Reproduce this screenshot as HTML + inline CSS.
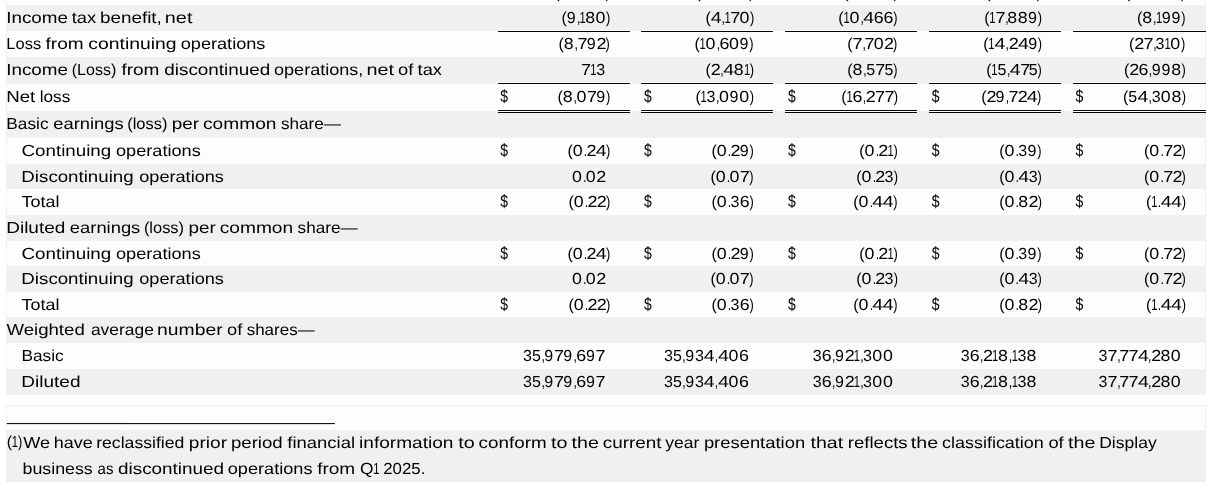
<!DOCTYPE html><html><head><meta charset='utf-8'><title>Income statement excerpt</title><style>html,body{margin:0;padding:0;background:#fff}svg{display:block}</style></head><body>
<svg width='1212' height='489' viewBox='0 0 1212 489'>
<rect x='0' y='0' width='1212' height='489' fill='#fff'/>
<rect x='6' y='-20' width='1200' height='25' fill='#efefef'/>
<rect x='7' y='-20' width='1198' height='25' fill='#fff'/>
<rect x='8' y='-19' width='1196' height='23' fill='#fdfdfd'/>
<rect x='6' y='5' width='1200' height='26' fill='#f0f0f0'/>
<rect x='6' y='31' width='1200' height='26' fill='#efefef'/>
<rect x='7' y='31' width='1198' height='26' fill='#fff'/>
<rect x='8' y='32' width='1196' height='24' fill='#fdfdfd'/>
<rect x='6' y='57' width='1200' height='27' fill='#f0f0f0'/>
<rect x='6' y='84' width='1200' height='27' fill='#efefef'/>
<rect x='7' y='84' width='1198' height='27' fill='#fff'/>
<rect x='8' y='85' width='1196' height='25' fill='#fdfdfd'/>
<rect x='6' y='111' width='1200' height='27' fill='#f0f0f0'/>
<rect x='6' y='138' width='1200' height='26' fill='#efefef'/>
<rect x='7' y='138' width='1198' height='26' fill='#fff'/>
<rect x='8' y='139' width='1196' height='24' fill='#fdfdfd'/>
<rect x='6' y='164' width='1200' height='25' fill='#f0f0f0'/>
<rect x='6' y='189' width='1200' height='26' fill='#efefef'/>
<rect x='7' y='189' width='1198' height='26' fill='#fff'/>
<rect x='8' y='190' width='1196' height='24' fill='#fdfdfd'/>
<rect x='6' y='215' width='1200' height='26' fill='#f0f0f0'/>
<rect x='6' y='241' width='1200' height='25' fill='#efefef'/>
<rect x='7' y='241' width='1198' height='25' fill='#fff'/>
<rect x='8' y='242' width='1196' height='23' fill='#fdfdfd'/>
<rect x='6' y='266' width='1200' height='26' fill='#f0f0f0'/>
<rect x='6' y='292' width='1200' height='25' fill='#efefef'/>
<rect x='7' y='292' width='1198' height='25' fill='#fff'/>
<rect x='8' y='293' width='1196' height='23' fill='#fdfdfd'/>
<rect x='6' y='317' width='1200' height='26' fill='#f0f0f0'/>
<rect x='6' y='343' width='1200' height='26' fill='#efefef'/>
<rect x='7' y='343' width='1198' height='26' fill='#fff'/>
<rect x='8' y='344' width='1196' height='24' fill='#fdfdfd'/>
<rect x='6' y='369' width='1200' height='26' fill='#f0f0f0'/>
<rect x='498' y='30' width='132' height='1' fill='#fff'/>
<rect x='498' y='31' width='132' height='1' fill='#000'/>
<rect x='498' y='82' width='132' height='1' fill='#fff'/>
<rect x='498' y='83' width='132' height='1' fill='#000'/>
<rect x='498' y='110' width='132' height='1' fill='#000'/>
<rect x='498' y='111' width='132' height='1' fill='#fff'/>
<rect x='498' y='112' width='132' height='1' fill='#000'/>
<rect x='641' y='30' width='132' height='1' fill='#fff'/>
<rect x='641' y='31' width='132' height='1' fill='#000'/>
<rect x='641' y='82' width='132' height='1' fill='#fff'/>
<rect x='641' y='83' width='132' height='1' fill='#000'/>
<rect x='641' y='110' width='132' height='1' fill='#000'/>
<rect x='641' y='111' width='132' height='1' fill='#fff'/>
<rect x='641' y='112' width='132' height='1' fill='#000'/>
<rect x='785' y='30' width='132' height='1' fill='#fff'/>
<rect x='785' y='31' width='132' height='1' fill='#000'/>
<rect x='785' y='82' width='132' height='1' fill='#fff'/>
<rect x='785' y='83' width='132' height='1' fill='#000'/>
<rect x='785' y='110' width='132' height='1' fill='#000'/>
<rect x='785' y='111' width='132' height='1' fill='#fff'/>
<rect x='785' y='112' width='132' height='1' fill='#000'/>
<rect x='929' y='30' width='132' height='1' fill='#fff'/>
<rect x='929' y='31' width='132' height='1' fill='#000'/>
<rect x='929' y='82' width='132' height='1' fill='#fff'/>
<rect x='929' y='83' width='132' height='1' fill='#000'/>
<rect x='929' y='110' width='132' height='1' fill='#000'/>
<rect x='929' y='111' width='132' height='1' fill='#fff'/>
<rect x='929' y='112' width='132' height='1' fill='#000'/>
<rect x='1073' y='30' width='133' height='1' fill='#fff'/>
<rect x='1073' y='31' width='133' height='1' fill='#000'/>
<rect x='1073' y='82' width='133' height='1' fill='#fff'/>
<rect x='1073' y='83' width='133' height='1' fill='#000'/>
<rect x='1073' y='110' width='133' height='1' fill='#000'/>
<rect x='1073' y='111' width='133' height='1' fill='#fff'/>
<rect x='1073' y='112' width='133' height='1' fill='#000'/>
<rect x='6' y='405' width='1200' height='25' fill='#efefef'/>
<rect x='7' y='406' width='1198' height='24' fill='#fff'/>
<rect x='8' y='407' width='1196' height='22' fill='#fdfdfd'/>
<rect x='6' y='430' width='1200' height='52' fill='#f0f0f0'/>
<g font-family='"Liberation Sans", sans-serif' font-size='16.0' fill='#000' text-rendering='geometricPrecision'>
<text y='23'><tspan x='6.22' textLength='61.73' lengthAdjust='spacingAndGlyphs'>Income</tspan> <tspan x='71.78' textLength='24.39' lengthAdjust='spacingAndGlyphs'>tax</tspan> <tspan x='99.95' textLength='61.93' lengthAdjust='spacingAndGlyphs'>benefit,</tspan> <tspan x='164.87' textLength='27.55' lengthAdjust='spacingAndGlyphs'>net</tspan></text>
<text y='49'><tspan x='6.37' textLength='34.82' lengthAdjust='spacingAndGlyphs'>Loss</tspan> <tspan x='45.54' textLength='38.00' lengthAdjust='spacingAndGlyphs'>from</tspan> <tspan x='88.38' textLength='88.15' lengthAdjust='spacingAndGlyphs'>continuing</tspan> <tspan x='180.73' textLength='84.68' lengthAdjust='spacingAndGlyphs'>operations</tspan></text>
<text y='75'><tspan x='6.22' textLength='61.73' lengthAdjust='spacingAndGlyphs'>Income</tspan> <tspan x='71.78' textLength='44.45' lengthAdjust='spacingAndGlyphs'>(Loss)</tspan> <tspan x='121.45' textLength='38.00' lengthAdjust='spacingAndGlyphs'>from</tspan> <tspan x='164.28' textLength='106.00' lengthAdjust='spacingAndGlyphs'>discontinued</tspan> <tspan x='274.03' textLength='89.32' lengthAdjust='spacingAndGlyphs'>operations,</tspan> <tspan x='366.58' textLength='27.55' lengthAdjust='spacingAndGlyphs'>net</tspan> <tspan x='397.99' textLength='15.25' lengthAdjust='spacingAndGlyphs'>of</tspan> <tspan x='417.63' textLength='24.39' lengthAdjust='spacingAndGlyphs'>tax</tspan></text>
<text y='102'><tspan x='6.23' textLength='29.06' lengthAdjust='spacingAndGlyphs'>Net</tspan> <tspan x='39.69' textLength='30.56' lengthAdjust='spacingAndGlyphs'>loss</tspan></text>
<text y='129'><tspan x='6.32' textLength='42.21' lengthAdjust='spacingAndGlyphs'>Basic</tspan> <tspan x='53.22' textLength='70.43' lengthAdjust='spacingAndGlyphs'>earnings</tspan> <tspan x='127.24' textLength='40.17' lengthAdjust='spacingAndGlyphs'>(loss)</tspan> <tspan x='171.76' textLength='27.33' lengthAdjust='spacingAndGlyphs'>per</tspan> <tspan x='203.06' textLength='73.43' lengthAdjust='spacingAndGlyphs'>common</tspan> <tspan x='280.95' textLength='60.03' lengthAdjust='spacingAndGlyphs'>share—</tspan></text>
<text y='156'><tspan x='21.55' textLength='89.59' lengthAdjust='spacingAndGlyphs'>Continuing</tspan> <tspan x='116.02' textLength='84.68' lengthAdjust='spacingAndGlyphs'>operations</tspan></text>
<text y='182'><tspan x='21.38' textLength='112.24' lengthAdjust='spacingAndGlyphs'>Discontinuing</tspan> <tspan x='139.23' textLength='84.68' lengthAdjust='spacingAndGlyphs'>operations</tspan></text>
<text y='207'><tspan x='21.55' textLength='37.89' lengthAdjust='spacingAndGlyphs'>Total</tspan></text>
<text y='233'><tspan x='6.21' textLength='59.15' lengthAdjust='spacingAndGlyphs'>Diluted</tspan> <tspan x='69.87' textLength='70.43' lengthAdjust='spacingAndGlyphs'>earnings</tspan> <tspan x='143.90' textLength='40.17' lengthAdjust='spacingAndGlyphs'>(loss)</tspan> <tspan x='188.42' textLength='27.33' lengthAdjust='spacingAndGlyphs'>per</tspan> <tspan x='219.72' textLength='73.43' lengthAdjust='spacingAndGlyphs'>common</tspan> <tspan x='297.61' textLength='60.03' lengthAdjust='spacingAndGlyphs'>share—</tspan></text>
<text y='259'><tspan x='21.55' textLength='89.59' lengthAdjust='spacingAndGlyphs'>Continuing</tspan> <tspan x='116.02' textLength='84.68' lengthAdjust='spacingAndGlyphs'>operations</tspan></text>
<text y='284'><tspan x='21.38' textLength='112.24' lengthAdjust='spacingAndGlyphs'>Discontinuing</tspan> <tspan x='139.23' textLength='84.68' lengthAdjust='spacingAndGlyphs'>operations</tspan></text>
<text y='310'><tspan x='21.55' textLength='37.89' lengthAdjust='spacingAndGlyphs'>Total</tspan></text>
<text y='335'><tspan x='6.40' textLength='78.36' lengthAdjust='spacingAndGlyphs'>Weighted</tspan> <tspan x='90.94' textLength='62.90' lengthAdjust='spacingAndGlyphs'>average</tspan> <tspan x='157.13' textLength='65.51' lengthAdjust='spacingAndGlyphs'>number</tspan> <tspan x='227.00' textLength='15.25' lengthAdjust='spacingAndGlyphs'>of</tspan> <tspan x='246.65' textLength='68.03' lengthAdjust='spacingAndGlyphs'>shares—</tspan></text>
<text y='361'><tspan x='21.47' textLength='42.21' lengthAdjust='spacingAndGlyphs'>Basic</tspan></text>
<text y='387'><tspan x='21.36' textLength='59.15' lengthAdjust='spacingAndGlyphs'>Diluted</tspan></text>
<text y='447'><tspan x='6.70' textLength='5.33' lengthAdjust='spacingAndGlyphs'>(</tspan><tspan x='11.81' textLength='6.23' lengthAdjust='spacingAndGlyphs'>1</tspan><tspan x='17.90' textLength='4.26' lengthAdjust='spacingAndGlyphs'>)</tspan><tspan x='23.16' y='448' textLength='26.81' lengthAdjust='spacingAndGlyphs'>We</tspan> <tspan x='53.79' y='448' textLength='38.91' lengthAdjust='spacingAndGlyphs'>have</tspan> <tspan x='96.20' y='448' textLength='88.14' lengthAdjust='spacingAndGlyphs'>reclassified</tspan> <tspan x='188.84' y='448' textLength='38.21' lengthAdjust='spacingAndGlyphs'>prior</tspan> <tspan x='230.96' y='448' textLength='51.73' lengthAdjust='spacingAndGlyphs'>period</tspan> <tspan x='287.30' y='448' textLength='67.81' lengthAdjust='spacingAndGlyphs'>financial</tspan> <tspan x='359.05' y='448' textLength='94.38' lengthAdjust='spacingAndGlyphs'>information</tspan> <tspan x='458.22' y='448' textLength='16.42' lengthAdjust='spacingAndGlyphs'>to</tspan> <tspan x='478.64' y='448' textLength='67.94' lengthAdjust='spacingAndGlyphs'>conform</tspan> <tspan x='551.13' y='448' textLength='16.42' lengthAdjust='spacingAndGlyphs'>to</tspan> <tspan x='571.55' y='448' textLength='27.31' lengthAdjust='spacingAndGlyphs'>the</tspan> <tspan x='602.72' y='448' textLength='58.76' lengthAdjust='spacingAndGlyphs'>current</tspan> <tspan x='665.15' y='448' textLength='34.14' lengthAdjust='spacingAndGlyphs'>year</tspan> <tspan x='703.90' y='448' textLength='101.22' lengthAdjust='spacingAndGlyphs'>presentation</tspan> <tspan x='810.52' y='448' textLength='32.62' lengthAdjust='spacingAndGlyphs'>that</tspan> <tspan x='847.80' y='448' textLength='59.83' lengthAdjust='spacingAndGlyphs'>reflects</tspan> <tspan x='910.85' y='448' textLength='27.31' lengthAdjust='spacingAndGlyphs'>the</tspan> <tspan x='942.02' y='448' textLength='101.79' lengthAdjust='spacingAndGlyphs'>classification</tspan> <tspan x='1048.46' y='448' textLength='15.25' lengthAdjust='spacingAndGlyphs'>of</tspan> <tspan x='1068.11' y='448' textLength='27.31' lengthAdjust='spacingAndGlyphs'>the</tspan> <tspan x='1099.18' y='448' textLength='57.51' lengthAdjust='spacingAndGlyphs'>Display</tspan></text>
<text y='474'><tspan x='22.49' textLength='70.29' lengthAdjust='spacingAndGlyphs'>business</tspan> <tspan x='97.60' textLength='15.91' lengthAdjust='spacingAndGlyphs'>as</tspan> <tspan x='118.04' textLength='106.00' lengthAdjust='spacingAndGlyphs'>discontinued</tspan> <tspan x='227.79' textLength='84.68' lengthAdjust='spacingAndGlyphs'>operations</tspan> <tspan x='317.18' textLength='38.00' lengthAdjust='spacingAndGlyphs'>from</tspan> <tspan x='360.02' textLength='13.49' lengthAdjust='spacingAndGlyphs'>Q</tspan><tspan x='373.29' textLength='6.23' lengthAdjust='spacingAndGlyphs'>1</tspan> <tspan x='383.25' textLength='42.10' lengthAdjust='spacingAndGlyphs'>2025.</tspan></text>
<text y='-2'><tspan x='554.50' textLength='5.33' lengthAdjust='spacingAndGlyphs'>(</tspan><tspan x='559.61' textLength='6.23' lengthAdjust='spacingAndGlyphs'>1</tspan><tspan x='565.70' textLength='10.02' lengthAdjust='spacingAndGlyphs'>7</tspan><tspan x='575.59' textLength='3.41' lengthAdjust='spacingAndGlyphs'>,</tspan><tspan x='577.67' textLength='8.91' lengthAdjust='spacingAndGlyphs'>9</tspan><tspan x='587.42' textLength='10.02' lengthAdjust='spacingAndGlyphs'>7</tspan><tspan x='596.72' textLength='10.02' lengthAdjust='spacingAndGlyphs'>2</tspan><tspan x='605.80' textLength='4.26' lengthAdjust='spacingAndGlyphs'>)</tspan></text>
<text y='-2'><tspan x='695.40' textLength='5.33' lengthAdjust='spacingAndGlyphs'>(</tspan><tspan x='700.51' textLength='6.23' lengthAdjust='spacingAndGlyphs'>1</tspan><tspan x='706.60' textLength='10.89' lengthAdjust='spacingAndGlyphs'>4</tspan><tspan x='717.65' textLength='3.41' lengthAdjust='spacingAndGlyphs'>,</tspan><tspan x='720.89' textLength='10.02' lengthAdjust='spacingAndGlyphs'>7</tspan><tspan x='730.12' textLength='10.02' lengthAdjust='spacingAndGlyphs'>7</tspan><tspan x='739.54' textLength='8.91' lengthAdjust='spacingAndGlyphs'>9</tspan><tspan x='749.28' textLength='4.26' lengthAdjust='spacingAndGlyphs'>)</tspan></text>
<text y='-2'><tspan x='843.30' textLength='5.33' lengthAdjust='spacingAndGlyphs'>(</tspan><tspan x='848.41' textLength='6.23' lengthAdjust='spacingAndGlyphs'>1</tspan><tspan x='854.50' textLength='9.90' lengthAdjust='spacingAndGlyphs'>8</tspan><tspan x='865.18' textLength='3.41' lengthAdjust='spacingAndGlyphs'>,</tspan><tspan x='868.11' textLength='6.23' lengthAdjust='spacingAndGlyphs'>1</tspan><tspan x='873.84' textLength='9.90' lengthAdjust='spacingAndGlyphs'>6</tspan><tspan x='883.58' textLength='9.90' lengthAdjust='spacingAndGlyphs'>8</tspan><tspan x='893.79' textLength='4.26' lengthAdjust='spacingAndGlyphs'>)</tspan></text>
<text y='-2'><tspan x='985.20' textLength='5.33' lengthAdjust='spacingAndGlyphs'>(</tspan><tspan x='990.46' textLength='8.91' lengthAdjust='spacingAndGlyphs'>3</tspan><tspan x='999.49' textLength='10.02' lengthAdjust='spacingAndGlyphs'>2</tspan><tspan x='1008.97' textLength='3.41' lengthAdjust='spacingAndGlyphs'>,</tspan><tspan x='1011.90' textLength='6.23' lengthAdjust='spacingAndGlyphs'>1</tspan><tspan x='1017.63' textLength='8.91' lengthAdjust='spacingAndGlyphs'>3</tspan><tspan x='1026.65' textLength='9.90' lengthAdjust='spacingAndGlyphs'>8</tspan><tspan x='1036.86' textLength='4.26' lengthAdjust='spacingAndGlyphs'>)</tspan></text>
<text y='-2'><tspan x='1125.10' textLength='5.33' lengthAdjust='spacingAndGlyphs'>(</tspan><tspan x='1130.36' textLength='8.91' lengthAdjust='spacingAndGlyphs'>3</tspan><tspan x='1139.39' textLength='8.91' lengthAdjust='spacingAndGlyphs'>5</tspan><tspan x='1148.75' textLength='3.41' lengthAdjust='spacingAndGlyphs'>,</tspan><tspan x='1151.68' textLength='8.91' lengthAdjust='spacingAndGlyphs'>5</tspan><tspan x='1160.73' textLength='9.90' lengthAdjust='spacingAndGlyphs'>0</tspan><tspan x='1171.32' textLength='8.91' lengthAdjust='spacingAndGlyphs'>9</tspan><tspan x='1181.07' textLength='4.26' lengthAdjust='spacingAndGlyphs'>)</tspan></text>
<text y='23'><tspan x='561.50' textLength='5.33' lengthAdjust='spacingAndGlyphs'>(</tspan><tspan x='566.76' textLength='8.91' lengthAdjust='spacingAndGlyphs'>9</tspan><tspan x='576.98' textLength='3.41' lengthAdjust='spacingAndGlyphs'>,</tspan><tspan x='579.57' textLength='6.23' lengthAdjust='spacingAndGlyphs'>1</tspan><tspan x='585.30' textLength='9.90' lengthAdjust='spacingAndGlyphs'>8</tspan><tspan x='595.51' textLength='9.90' lengthAdjust='spacingAndGlyphs'>0</tspan><tspan x='606.10' textLength='4.26' lengthAdjust='spacingAndGlyphs'>)</tspan></text>
<text y='23'><tspan x='705.40' textLength='5.33' lengthAdjust='spacingAndGlyphs'>(</tspan><tspan x='710.66' textLength='10.89' lengthAdjust='spacingAndGlyphs'>4</tspan><tspan x='721.39' textLength='3.41' lengthAdjust='spacingAndGlyphs'>,</tspan><tspan x='724.48' textLength='6.23' lengthAdjust='spacingAndGlyphs'>1</tspan><tspan x='730.21' textLength='10.02' lengthAdjust='spacingAndGlyphs'>7</tspan><tspan x='739.64' textLength='9.90' lengthAdjust='spacingAndGlyphs'>0</tspan><tspan x='749.91' textLength='4.26' lengthAdjust='spacingAndGlyphs'>)</tspan></text>
<text y='23'><tspan x='838.30' textLength='5.33' lengthAdjust='spacingAndGlyphs'>(</tspan><tspan x='843.41' textLength='6.23' lengthAdjust='spacingAndGlyphs'>1</tspan><tspan x='849.50' textLength='9.90' lengthAdjust='spacingAndGlyphs'>0</tspan><tspan x='860.56' textLength='3.41' lengthAdjust='spacingAndGlyphs'>,</tspan><tspan x='863.31' textLength='10.89' lengthAdjust='spacingAndGlyphs'>4</tspan><tspan x='873.68' textLength='9.90' lengthAdjust='spacingAndGlyphs'>6</tspan><tspan x='883.42' textLength='9.90' lengthAdjust='spacingAndGlyphs'>6</tspan><tspan x='893.17' textLength='4.26' lengthAdjust='spacingAndGlyphs'>)</tspan></text>
<text y='23'><tspan x='984.20' textLength='5.33' lengthAdjust='spacingAndGlyphs'>(</tspan><tspan x='989.31' textLength='6.23' lengthAdjust='spacingAndGlyphs'>1</tspan><tspan x='995.40' textLength='10.02' lengthAdjust='spacingAndGlyphs'>7</tspan><tspan x='1005.29' textLength='3.41' lengthAdjust='spacingAndGlyphs'>,</tspan><tspan x='1007.37' textLength='9.90' lengthAdjust='spacingAndGlyphs'>8</tspan><tspan x='1017.74' textLength='9.90' lengthAdjust='spacingAndGlyphs'>8</tspan><tspan x='1027.95' textLength='8.91' lengthAdjust='spacingAndGlyphs'>9</tspan><tspan x='1037.69' textLength='4.26' lengthAdjust='spacingAndGlyphs'>)</tspan></text>
<text y='23'><tspan x='1137.10' textLength='5.33' lengthAdjust='spacingAndGlyphs'>(</tspan><tspan x='1142.36' textLength='9.90' lengthAdjust='spacingAndGlyphs'>8</tspan><tspan x='1153.04' textLength='3.41' lengthAdjust='spacingAndGlyphs'>,</tspan><tspan x='1155.97' textLength='6.23' lengthAdjust='spacingAndGlyphs'>1</tspan><tspan x='1161.70' textLength='8.91' lengthAdjust='spacingAndGlyphs'>9</tspan><tspan x='1171.45' textLength='8.91' lengthAdjust='spacingAndGlyphs'>9</tspan><tspan x='1181.19' textLength='4.26' lengthAdjust='spacingAndGlyphs'>)</tspan></text>
<text y='49'><tspan x='558.50' textLength='5.33' lengthAdjust='spacingAndGlyphs'>(</tspan><tspan x='563.76' textLength='9.90' lengthAdjust='spacingAndGlyphs'>8</tspan><tspan x='574.44' textLength='3.41' lengthAdjust='spacingAndGlyphs'>,</tspan><tspan x='577.52' textLength='10.02' lengthAdjust='spacingAndGlyphs'>7</tspan><tspan x='586.75' textLength='8.91' lengthAdjust='spacingAndGlyphs'>9</tspan><tspan x='596.50' textLength='10.02' lengthAdjust='spacingAndGlyphs'>2</tspan><tspan x='605.58' textLength='4.26' lengthAdjust='spacingAndGlyphs'>)</tspan></text>
<text y='49'><tspan x='694.40' textLength='5.33' lengthAdjust='spacingAndGlyphs'>(</tspan><tspan x='699.51' textLength='6.23' lengthAdjust='spacingAndGlyphs'>1</tspan><tspan x='705.60' textLength='9.90' lengthAdjust='spacingAndGlyphs'>0</tspan><tspan x='716.66' textLength='3.41' lengthAdjust='spacingAndGlyphs'>,</tspan><tspan x='719.41' textLength='9.90' lengthAdjust='spacingAndGlyphs'>6</tspan><tspan x='728.97' textLength='9.90' lengthAdjust='spacingAndGlyphs'>0</tspan><tspan x='739.56' textLength='8.91' lengthAdjust='spacingAndGlyphs'>9</tspan><tspan x='749.31' textLength='4.26' lengthAdjust='spacingAndGlyphs'>)</tspan></text>
<text y='49'><tspan x='847.30' textLength='5.33' lengthAdjust='spacingAndGlyphs'>(</tspan><tspan x='852.56' textLength='10.02' lengthAdjust='spacingAndGlyphs'>7</tspan><tspan x='862.46' textLength='3.41' lengthAdjust='spacingAndGlyphs'>,</tspan><tspan x='864.54' textLength='10.02' lengthAdjust='spacingAndGlyphs'>7</tspan><tspan x='873.76' textLength='9.90' lengthAdjust='spacingAndGlyphs'>0</tspan><tspan x='884.04' textLength='10.02' lengthAdjust='spacingAndGlyphs'>2</tspan><tspan x='893.12' textLength='4.26' lengthAdjust='spacingAndGlyphs'>)</tspan></text>
<text y='49'><tspan x='983.20' textLength='5.33' lengthAdjust='spacingAndGlyphs'>(</tspan><tspan x='988.31' textLength='6.23' lengthAdjust='spacingAndGlyphs'>1</tspan><tspan x='994.40' textLength='10.89' lengthAdjust='spacingAndGlyphs'>4</tspan><tspan x='1005.45' textLength='3.41' lengthAdjust='spacingAndGlyphs'>,</tspan><tspan x='1008.69' textLength='10.02' lengthAdjust='spacingAndGlyphs'>2</tspan><tspan x='1017.94' textLength='10.89' lengthAdjust='spacingAndGlyphs'>4</tspan><tspan x='1028.15' textLength='8.91' lengthAdjust='spacingAndGlyphs'>9</tspan><tspan x='1037.77' textLength='4.26' lengthAdjust='spacingAndGlyphs'>)</tspan></text>
<text y='49'><tspan x='1129.10' textLength='5.33' lengthAdjust='spacingAndGlyphs'>(</tspan><tspan x='1134.36' textLength='10.02' lengthAdjust='spacingAndGlyphs'>2</tspan><tspan x='1143.45' textLength='10.02' lengthAdjust='spacingAndGlyphs'>7</tspan><tspan x='1153.31' textLength='3.41' lengthAdjust='spacingAndGlyphs'>,</tspan><tspan x='1155.39' textLength='8.91' lengthAdjust='spacingAndGlyphs'>3</tspan><tspan x='1164.42' textLength='6.23' lengthAdjust='spacingAndGlyphs'>1</tspan><tspan x='1170.35' textLength='9.90' lengthAdjust='spacingAndGlyphs'>0</tspan><tspan x='1180.94' textLength='4.26' lengthAdjust='spacingAndGlyphs'>)</tspan></text>
<text y='75'><tspan x='581.00' textLength='10.02' lengthAdjust='spacingAndGlyphs'>7</tspan><tspan x='590.27' textLength='6.23' lengthAdjust='spacingAndGlyphs'>1</tspan><tspan x='596.36' textLength='8.91' lengthAdjust='spacingAndGlyphs'>3</tspan></text>
<text y='75'><tspan x='705.40' textLength='5.33' lengthAdjust='spacingAndGlyphs'>(</tspan><tspan x='710.66' textLength='10.02' lengthAdjust='spacingAndGlyphs'>2</tspan><tspan x='720.22' textLength='3.41' lengthAdjust='spacingAndGlyphs'>,</tspan><tspan x='723.30' textLength='10.89' lengthAdjust='spacingAndGlyphs'>4</tspan><tspan x='733.68' textLength='9.90' lengthAdjust='spacingAndGlyphs'>8</tspan><tspan x='743.90' textLength='6.23' lengthAdjust='spacingAndGlyphs'>1</tspan><tspan x='749.82' textLength='4.26' lengthAdjust='spacingAndGlyphs'>)</tspan></text>
<text y='75'><tspan x='847.30' textLength='5.33' lengthAdjust='spacingAndGlyphs'>(</tspan><tspan x='852.56' textLength='9.90' lengthAdjust='spacingAndGlyphs'>8</tspan><tspan x='863.24' textLength='3.41' lengthAdjust='spacingAndGlyphs'>,</tspan><tspan x='866.32' textLength='8.91' lengthAdjust='spacingAndGlyphs'>5</tspan><tspan x='875.38' textLength='10.02' lengthAdjust='spacingAndGlyphs'>7</tspan><tspan x='884.58' textLength='8.91' lengthAdjust='spacingAndGlyphs'>5</tspan><tspan x='893.34' textLength='4.26' lengthAdjust='spacingAndGlyphs'>)</tspan></text>
<text y='75'><tspan x='986.20' textLength='5.33' lengthAdjust='spacingAndGlyphs'>(</tspan><tspan x='991.31' textLength='6.23' lengthAdjust='spacingAndGlyphs'>1</tspan><tspan x='997.40' textLength='8.91' lengthAdjust='spacingAndGlyphs'>5</tspan><tspan x='1006.93' textLength='3.41' lengthAdjust='spacingAndGlyphs'>,</tspan><tspan x='1009.85' textLength='10.89' lengthAdjust='spacingAndGlyphs'>4</tspan><tspan x='1020.22' textLength='10.02' lengthAdjust='spacingAndGlyphs'>7</tspan><tspan x='1028.85' textLength='8.91' lengthAdjust='spacingAndGlyphs'>5</tspan><tspan x='1037.60' textLength='4.26' lengthAdjust='spacingAndGlyphs'>)</tspan></text>
<text y='75'><tspan x='1124.10' textLength='5.33' lengthAdjust='spacingAndGlyphs'>(</tspan><tspan x='1129.36' textLength='10.02' lengthAdjust='spacingAndGlyphs'>2</tspan><tspan x='1138.45' textLength='9.90' lengthAdjust='spacingAndGlyphs'>6</tspan><tspan x='1148.63' textLength='3.41' lengthAdjust='spacingAndGlyphs'>,</tspan><tspan x='1151.71' textLength='8.91' lengthAdjust='spacingAndGlyphs'>9</tspan><tspan x='1161.46' textLength='8.91' lengthAdjust='spacingAndGlyphs'>9</tspan><tspan x='1171.20' textLength='9.90' lengthAdjust='spacingAndGlyphs'>8</tspan><tspan x='1181.41' textLength='4.26' lengthAdjust='spacingAndGlyphs'>)</tspan></text>
<text y='102'><tspan x='557.50' textLength='5.33' lengthAdjust='spacingAndGlyphs'>(</tspan><tspan x='562.76' textLength='9.90' lengthAdjust='spacingAndGlyphs'>8</tspan><tspan x='573.44' textLength='3.41' lengthAdjust='spacingAndGlyphs'>,</tspan><tspan x='576.52' textLength='9.90' lengthAdjust='spacingAndGlyphs'>0</tspan><tspan x='586.94' textLength='10.02' lengthAdjust='spacingAndGlyphs'>7</tspan><tspan x='596.24' textLength='8.91' lengthAdjust='spacingAndGlyphs'>9</tspan><tspan x='605.98' textLength='4.26' lengthAdjust='spacingAndGlyphs'>)</tspan></text>
<text y='102'><tspan x='695.40' textLength='5.33' lengthAdjust='spacingAndGlyphs'>(</tspan><tspan x='700.51' textLength='6.23' lengthAdjust='spacingAndGlyphs'>1</tspan><tspan x='706.60' textLength='8.91' lengthAdjust='spacingAndGlyphs'>3</tspan><tspan x='716.09' textLength='3.41' lengthAdjust='spacingAndGlyphs'>,</tspan><tspan x='719.02' textLength='9.90' lengthAdjust='spacingAndGlyphs'>0</tspan><tspan x='729.43' textLength='8.91' lengthAdjust='spacingAndGlyphs'>9</tspan><tspan x='739.17' textLength='9.90' lengthAdjust='spacingAndGlyphs'>0</tspan><tspan x='749.77' textLength='4.26' lengthAdjust='spacingAndGlyphs'>)</tspan></text>
<text y='102'><tspan x='841.30' textLength='5.33' lengthAdjust='spacingAndGlyphs'>(</tspan><tspan x='846.41' textLength='6.23' lengthAdjust='spacingAndGlyphs'>1</tspan><tspan x='852.50' textLength='9.90' lengthAdjust='spacingAndGlyphs'>6</tspan><tspan x='862.71' textLength='3.41' lengthAdjust='spacingAndGlyphs'>,</tspan><tspan x='865.80' textLength='10.02' lengthAdjust='spacingAndGlyphs'>2</tspan><tspan x='875.04' textLength='10.02' lengthAdjust='spacingAndGlyphs'>7</tspan><tspan x='884.43' textLength='10.02' lengthAdjust='spacingAndGlyphs'>7</tspan><tspan x='893.86' textLength='4.26' lengthAdjust='spacingAndGlyphs'>)</tspan></text>
<text y='102'><tspan x='981.20' textLength='5.33' lengthAdjust='spacingAndGlyphs'>(</tspan><tspan x='986.46' textLength='10.02' lengthAdjust='spacingAndGlyphs'>2</tspan><tspan x='995.55' textLength='8.91' lengthAdjust='spacingAndGlyphs'>9</tspan><tspan x='1005.77' textLength='3.41' lengthAdjust='spacingAndGlyphs'>,</tspan><tspan x='1008.51' textLength='10.02' lengthAdjust='spacingAndGlyphs'>7</tspan><tspan x='1017.74' textLength='10.02' lengthAdjust='spacingAndGlyphs'>2</tspan><tspan x='1026.83' textLength='10.89' lengthAdjust='spacingAndGlyphs'>4</tspan><tspan x='1037.04' textLength='4.26' lengthAdjust='spacingAndGlyphs'>)</tspan></text>
<text y='102'><tspan x='1123.10' textLength='5.33' lengthAdjust='spacingAndGlyphs'>(</tspan><tspan x='1128.36' textLength='8.91' lengthAdjust='spacingAndGlyphs'>5</tspan><tspan x='1137.42' textLength='10.89' lengthAdjust='spacingAndGlyphs'>4</tspan><tspan x='1148.47' textLength='3.41' lengthAdjust='spacingAndGlyphs'>,</tspan><tspan x='1151.71' textLength='8.91' lengthAdjust='spacingAndGlyphs'>3</tspan><tspan x='1160.89' textLength='9.90' lengthAdjust='spacingAndGlyphs'>0</tspan><tspan x='1171.48' textLength='9.90' lengthAdjust='spacingAndGlyphs'>8</tspan><tspan x='1181.69' textLength='4.26' lengthAdjust='spacingAndGlyphs'>)</tspan></text>
<text y='156'><tspan x='567.50' textLength='5.33' lengthAdjust='spacingAndGlyphs'>(</tspan><tspan x='572.76' textLength='9.90' lengthAdjust='spacingAndGlyphs'>0</tspan><tspan x='583.83' textLength='3.41' lengthAdjust='spacingAndGlyphs'>.</tspan><tspan x='586.57' textLength='10.02' lengthAdjust='spacingAndGlyphs'>2</tspan><tspan x='595.82' textLength='10.89' lengthAdjust='spacingAndGlyphs'>4</tspan><tspan x='606.03' textLength='4.26' lengthAdjust='spacingAndGlyphs'>)</tspan></text>
<text y='156'><tspan x='711.40' textLength='5.33' lengthAdjust='spacingAndGlyphs'>(</tspan><tspan x='716.66' textLength='9.90' lengthAdjust='spacingAndGlyphs'>0</tspan><tspan x='727.73' textLength='3.41' lengthAdjust='spacingAndGlyphs'>.</tspan><tspan x='730.47' textLength='10.02' lengthAdjust='spacingAndGlyphs'>2</tspan><tspan x='739.72' textLength='8.91' lengthAdjust='spacingAndGlyphs'>9</tspan><tspan x='749.46' textLength='4.26' lengthAdjust='spacingAndGlyphs'>)</tspan></text>
<text y='156'><tspan x='859.30' textLength='5.33' lengthAdjust='spacingAndGlyphs'>(</tspan><tspan x='864.56' textLength='9.90' lengthAdjust='spacingAndGlyphs'>0</tspan><tspan x='875.63' textLength='3.41' lengthAdjust='spacingAndGlyphs'>.</tspan><tspan x='878.37' textLength='10.02' lengthAdjust='spacingAndGlyphs'>2</tspan><tspan x='887.47' textLength='6.23' lengthAdjust='spacingAndGlyphs'>1</tspan><tspan x='893.39' textLength='4.26' lengthAdjust='spacingAndGlyphs'>)</tspan></text>
<text y='156'><tspan x='999.20' textLength='5.33' lengthAdjust='spacingAndGlyphs'>(</tspan><tspan x='1004.46' textLength='9.90' lengthAdjust='spacingAndGlyphs'>0</tspan><tspan x='1015.53' textLength='3.41' lengthAdjust='spacingAndGlyphs'>.</tspan><tspan x='1018.27' textLength='8.91' lengthAdjust='spacingAndGlyphs'>3</tspan><tspan x='1027.45' textLength='8.91' lengthAdjust='spacingAndGlyphs'>9</tspan><tspan x='1037.20' textLength='4.26' lengthAdjust='spacingAndGlyphs'>)</tspan></text>
<text y='156'><tspan x='1144.10' textLength='5.33' lengthAdjust='spacingAndGlyphs'>(</tspan><tspan x='1149.36' textLength='9.90' lengthAdjust='spacingAndGlyphs'>0</tspan><tspan x='1160.43' textLength='3.41' lengthAdjust='spacingAndGlyphs'>.</tspan><tspan x='1163.17' textLength='10.02' lengthAdjust='spacingAndGlyphs'>7</tspan><tspan x='1172.40' textLength='10.02' lengthAdjust='spacingAndGlyphs'>2</tspan><tspan x='1181.49' textLength='4.26' lengthAdjust='spacingAndGlyphs'>)</tspan></text>
<text y='182'><tspan x='572.00' textLength='9.90' lengthAdjust='spacingAndGlyphs'>0</tspan><tspan x='583.06' textLength='3.41' lengthAdjust='spacingAndGlyphs'>.</tspan><tspan x='585.81' textLength='9.90' lengthAdjust='spacingAndGlyphs'>0</tspan><tspan x='596.22' textLength='10.02' lengthAdjust='spacingAndGlyphs'>2</tspan></text>
<text y='182'><tspan x='710.40' textLength='5.33' lengthAdjust='spacingAndGlyphs'>(</tspan><tspan x='715.66' textLength='9.90' lengthAdjust='spacingAndGlyphs'>0</tspan><tspan x='726.73' textLength='3.41' lengthAdjust='spacingAndGlyphs'>.</tspan><tspan x='729.47' textLength='9.90' lengthAdjust='spacingAndGlyphs'>0</tspan><tspan x='739.88' textLength='10.02' lengthAdjust='spacingAndGlyphs'>7</tspan><tspan x='749.18' textLength='4.26' lengthAdjust='spacingAndGlyphs'>)</tspan></text>
<text y='182'><tspan x='856.30' textLength='5.33' lengthAdjust='spacingAndGlyphs'>(</tspan><tspan x='861.56' textLength='9.90' lengthAdjust='spacingAndGlyphs'>0</tspan><tspan x='872.63' textLength='3.41' lengthAdjust='spacingAndGlyphs'>.</tspan><tspan x='875.37' textLength='10.02' lengthAdjust='spacingAndGlyphs'>2</tspan><tspan x='884.62' textLength='8.91' lengthAdjust='spacingAndGlyphs'>3</tspan><tspan x='893.64' textLength='4.26' lengthAdjust='spacingAndGlyphs'>)</tspan></text>
<text y='182'><tspan x='999.20' textLength='5.33' lengthAdjust='spacingAndGlyphs'>(</tspan><tspan x='1004.46' textLength='9.90' lengthAdjust='spacingAndGlyphs'>0</tspan><tspan x='1015.53' textLength='3.41' lengthAdjust='spacingAndGlyphs'>.</tspan><tspan x='1018.27' textLength='10.89' lengthAdjust='spacingAndGlyphs'>4</tspan><tspan x='1028.64' textLength='8.91' lengthAdjust='spacingAndGlyphs'>3</tspan><tspan x='1037.43' textLength='4.26' lengthAdjust='spacingAndGlyphs'>)</tspan></text>
<text y='182'><tspan x='1144.10' textLength='5.33' lengthAdjust='spacingAndGlyphs'>(</tspan><tspan x='1149.36' textLength='9.90' lengthAdjust='spacingAndGlyphs'>0</tspan><tspan x='1160.43' textLength='3.41' lengthAdjust='spacingAndGlyphs'>.</tspan><tspan x='1163.17' textLength='10.02' lengthAdjust='spacingAndGlyphs'>7</tspan><tspan x='1172.40' textLength='10.02' lengthAdjust='spacingAndGlyphs'>2</tspan><tspan x='1181.49' textLength='4.26' lengthAdjust='spacingAndGlyphs'>)</tspan></text>
<text y='207'><tspan x='568.50' textLength='5.33' lengthAdjust='spacingAndGlyphs'>(</tspan><tspan x='573.76' textLength='9.90' lengthAdjust='spacingAndGlyphs'>0</tspan><tspan x='584.83' textLength='3.41' lengthAdjust='spacingAndGlyphs'>.</tspan><tspan x='587.57' textLength='10.02' lengthAdjust='spacingAndGlyphs'>2</tspan><tspan x='596.82' textLength='10.02' lengthAdjust='spacingAndGlyphs'>2</tspan><tspan x='605.91' textLength='4.26' lengthAdjust='spacingAndGlyphs'>)</tspan></text>
<text y='207'><tspan x='711.40' textLength='5.33' lengthAdjust='spacingAndGlyphs'>(</tspan><tspan x='716.66' textLength='9.90' lengthAdjust='spacingAndGlyphs'>0</tspan><tspan x='727.73' textLength='3.41' lengthAdjust='spacingAndGlyphs'>.</tspan><tspan x='730.47' textLength='8.91' lengthAdjust='spacingAndGlyphs'>3</tspan><tspan x='739.65' textLength='9.90' lengthAdjust='spacingAndGlyphs'>6</tspan><tspan x='749.40' textLength='4.26' lengthAdjust='spacingAndGlyphs'>)</tspan></text>
<text y='207'><tspan x='853.30' textLength='5.33' lengthAdjust='spacingAndGlyphs'>(</tspan><tspan x='858.56' textLength='9.90' lengthAdjust='spacingAndGlyphs'>0</tspan><tspan x='869.63' textLength='3.41' lengthAdjust='spacingAndGlyphs'>.</tspan><tspan x='872.37' textLength='10.89' lengthAdjust='spacingAndGlyphs'>4</tspan><tspan x='882.74' textLength='10.89' lengthAdjust='spacingAndGlyphs'>4</tspan><tspan x='893.32' textLength='4.26' lengthAdjust='spacingAndGlyphs'>)</tspan></text>
<text y='207'><tspan x='999.20' textLength='5.33' lengthAdjust='spacingAndGlyphs'>(</tspan><tspan x='1004.46' textLength='9.90' lengthAdjust='spacingAndGlyphs'>0</tspan><tspan x='1015.53' textLength='3.41' lengthAdjust='spacingAndGlyphs'>.</tspan><tspan x='1018.27' textLength='9.90' lengthAdjust='spacingAndGlyphs'>8</tspan><tspan x='1028.64' textLength='10.02' lengthAdjust='spacingAndGlyphs'>2</tspan><tspan x='1037.73' textLength='4.26' lengthAdjust='spacingAndGlyphs'>)</tspan></text>
<text y='207'><tspan x='1146.10' textLength='5.33' lengthAdjust='spacingAndGlyphs'>(</tspan><tspan x='1151.21' textLength='6.23' lengthAdjust='spacingAndGlyphs'>1</tspan><tspan x='1157.77' textLength='3.41' lengthAdjust='spacingAndGlyphs'>.</tspan><tspan x='1160.69' textLength='10.89' lengthAdjust='spacingAndGlyphs'>4</tspan><tspan x='1171.07' textLength='10.89' lengthAdjust='spacingAndGlyphs'>4</tspan><tspan x='1181.64' textLength='4.26' lengthAdjust='spacingAndGlyphs'>)</tspan></text>
<text y='361'><tspan x='523.00' textLength='8.91' lengthAdjust='spacingAndGlyphs'>3</tspan><tspan x='532.02' textLength='8.91' lengthAdjust='spacingAndGlyphs'>5</tspan><tspan x='541.39' textLength='3.41' lengthAdjust='spacingAndGlyphs'>,</tspan><tspan x='544.31' textLength='8.91' lengthAdjust='spacingAndGlyphs'>9</tspan><tspan x='554.06' textLength='10.02' lengthAdjust='spacingAndGlyphs'>7</tspan><tspan x='563.36' textLength='8.91' lengthAdjust='spacingAndGlyphs'>9</tspan><tspan x='573.57' textLength='3.41' lengthAdjust='spacingAndGlyphs'>,</tspan><tspan x='576.31' textLength='9.90' lengthAdjust='spacingAndGlyphs'>6</tspan><tspan x='585.88' textLength='8.91' lengthAdjust='spacingAndGlyphs'>9</tspan><tspan x='595.62' textLength='10.02' lengthAdjust='spacingAndGlyphs'>7</tspan></text>
<text y='361'><tspan x='663.90' textLength='8.91' lengthAdjust='spacingAndGlyphs'>3</tspan><tspan x='672.92' textLength='8.91' lengthAdjust='spacingAndGlyphs'>5</tspan><tspan x='682.29' textLength='3.41' lengthAdjust='spacingAndGlyphs'>,</tspan><tspan x='685.21' textLength='8.91' lengthAdjust='spacingAndGlyphs'>9</tspan><tspan x='694.96' textLength='8.91' lengthAdjust='spacingAndGlyphs'>3</tspan><tspan x='703.82' textLength='10.89' lengthAdjust='spacingAndGlyphs'>4</tspan><tspan x='714.87' textLength='3.41' lengthAdjust='spacingAndGlyphs'>,</tspan><tspan x='718.11' textLength='10.89' lengthAdjust='spacingAndGlyphs'>4</tspan><tspan x='728.48' textLength='9.90' lengthAdjust='spacingAndGlyphs'>0</tspan><tspan x='739.07' textLength='9.90' lengthAdjust='spacingAndGlyphs'>6</tspan></text>
<text y='361'><tspan x='812.80' textLength='8.91' lengthAdjust='spacingAndGlyphs'>3</tspan><tspan x='821.82' textLength='9.90' lengthAdjust='spacingAndGlyphs'>6</tspan><tspan x='832.04' textLength='3.41' lengthAdjust='spacingAndGlyphs'>,</tspan><tspan x='835.12' textLength='8.91' lengthAdjust='spacingAndGlyphs'>9</tspan><tspan x='844.86' textLength='10.02' lengthAdjust='spacingAndGlyphs'>2</tspan><tspan x='853.80' textLength='6.23' lengthAdjust='spacingAndGlyphs'>1</tspan><tspan x='860.20' textLength='3.41' lengthAdjust='spacingAndGlyphs'>,</tspan><tspan x='863.12' textLength='8.91' lengthAdjust='spacingAndGlyphs'>3</tspan><tspan x='872.30' textLength='9.90' lengthAdjust='spacingAndGlyphs'>0</tspan><tspan x='882.90' textLength='9.90' lengthAdjust='spacingAndGlyphs'>0</tspan></text>
<text y='361'><tspan x='960.70' textLength='8.91' lengthAdjust='spacingAndGlyphs'>3</tspan><tspan x='969.72' textLength='9.90' lengthAdjust='spacingAndGlyphs'>6</tspan><tspan x='979.94' textLength='3.41' lengthAdjust='spacingAndGlyphs'>,</tspan><tspan x='983.02' textLength='10.02' lengthAdjust='spacingAndGlyphs'>2</tspan><tspan x='992.12' textLength='6.23' lengthAdjust='spacingAndGlyphs'>1</tspan><tspan x='998.04' textLength='9.90' lengthAdjust='spacingAndGlyphs'>8</tspan><tspan x='1008.72' textLength='3.41' lengthAdjust='spacingAndGlyphs'>,</tspan><tspan x='1011.65' textLength='6.23' lengthAdjust='spacingAndGlyphs'>1</tspan><tspan x='1017.38' textLength='8.91' lengthAdjust='spacingAndGlyphs'>3</tspan><tspan x='1026.41' textLength='9.90' lengthAdjust='spacingAndGlyphs'>8</tspan></text>
<text y='361'><tspan x='1098.60' textLength='8.91' lengthAdjust='spacingAndGlyphs'>3</tspan><tspan x='1107.62' textLength='10.02' lengthAdjust='spacingAndGlyphs'>7</tspan><tspan x='1117.31' textLength='3.41' lengthAdjust='spacingAndGlyphs'>,</tspan><tspan x='1119.39' textLength='10.02' lengthAdjust='spacingAndGlyphs'>7</tspan><tspan x='1128.62' textLength='10.02' lengthAdjust='spacingAndGlyphs'>7</tspan><tspan x='1138.04' textLength='10.89' lengthAdjust='spacingAndGlyphs'>4</tspan><tspan x='1148.05' textLength='3.41' lengthAdjust='spacingAndGlyphs'>,</tspan><tspan x='1151.29' textLength='10.02' lengthAdjust='spacingAndGlyphs'>2</tspan><tspan x='1160.54' textLength='9.90' lengthAdjust='spacingAndGlyphs'>8</tspan><tspan x='1170.75' textLength='9.90' lengthAdjust='spacingAndGlyphs'>0</tspan></text>
<text y='259'><tspan x='567.50' textLength='5.33' lengthAdjust='spacingAndGlyphs'>(</tspan><tspan x='572.76' textLength='9.90' lengthAdjust='spacingAndGlyphs'>0</tspan><tspan x='583.83' textLength='3.41' lengthAdjust='spacingAndGlyphs'>.</tspan><tspan x='586.57' textLength='10.02' lengthAdjust='spacingAndGlyphs'>2</tspan><tspan x='595.82' textLength='10.89' lengthAdjust='spacingAndGlyphs'>4</tspan><tspan x='606.03' textLength='4.26' lengthAdjust='spacingAndGlyphs'>)</tspan></text>
<text y='259'><tspan x='711.40' textLength='5.33' lengthAdjust='spacingAndGlyphs'>(</tspan><tspan x='716.66' textLength='9.90' lengthAdjust='spacingAndGlyphs'>0</tspan><tspan x='727.73' textLength='3.41' lengthAdjust='spacingAndGlyphs'>.</tspan><tspan x='730.47' textLength='10.02' lengthAdjust='spacingAndGlyphs'>2</tspan><tspan x='739.72' textLength='8.91' lengthAdjust='spacingAndGlyphs'>9</tspan><tspan x='749.46' textLength='4.26' lengthAdjust='spacingAndGlyphs'>)</tspan></text>
<text y='259'><tspan x='859.30' textLength='5.33' lengthAdjust='spacingAndGlyphs'>(</tspan><tspan x='864.56' textLength='9.90' lengthAdjust='spacingAndGlyphs'>0</tspan><tspan x='875.63' textLength='3.41' lengthAdjust='spacingAndGlyphs'>.</tspan><tspan x='878.37' textLength='10.02' lengthAdjust='spacingAndGlyphs'>2</tspan><tspan x='887.47' textLength='6.23' lengthAdjust='spacingAndGlyphs'>1</tspan><tspan x='893.39' textLength='4.26' lengthAdjust='spacingAndGlyphs'>)</tspan></text>
<text y='259'><tspan x='999.20' textLength='5.33' lengthAdjust='spacingAndGlyphs'>(</tspan><tspan x='1004.46' textLength='9.90' lengthAdjust='spacingAndGlyphs'>0</tspan><tspan x='1015.53' textLength='3.41' lengthAdjust='spacingAndGlyphs'>.</tspan><tspan x='1018.27' textLength='8.91' lengthAdjust='spacingAndGlyphs'>3</tspan><tspan x='1027.45' textLength='8.91' lengthAdjust='spacingAndGlyphs'>9</tspan><tspan x='1037.20' textLength='4.26' lengthAdjust='spacingAndGlyphs'>)</tspan></text>
<text y='259'><tspan x='1144.10' textLength='5.33' lengthAdjust='spacingAndGlyphs'>(</tspan><tspan x='1149.36' textLength='9.90' lengthAdjust='spacingAndGlyphs'>0</tspan><tspan x='1160.43' textLength='3.41' lengthAdjust='spacingAndGlyphs'>.</tspan><tspan x='1163.17' textLength='10.02' lengthAdjust='spacingAndGlyphs'>7</tspan><tspan x='1172.40' textLength='10.02' lengthAdjust='spacingAndGlyphs'>2</tspan><tspan x='1181.49' textLength='4.26' lengthAdjust='spacingAndGlyphs'>)</tspan></text>
<text y='284'><tspan x='572.00' textLength='9.90' lengthAdjust='spacingAndGlyphs'>0</tspan><tspan x='583.06' textLength='3.41' lengthAdjust='spacingAndGlyphs'>.</tspan><tspan x='585.81' textLength='9.90' lengthAdjust='spacingAndGlyphs'>0</tspan><tspan x='596.22' textLength='10.02' lengthAdjust='spacingAndGlyphs'>2</tspan></text>
<text y='284'><tspan x='710.40' textLength='5.33' lengthAdjust='spacingAndGlyphs'>(</tspan><tspan x='715.66' textLength='9.90' lengthAdjust='spacingAndGlyphs'>0</tspan><tspan x='726.73' textLength='3.41' lengthAdjust='spacingAndGlyphs'>.</tspan><tspan x='729.47' textLength='9.90' lengthAdjust='spacingAndGlyphs'>0</tspan><tspan x='739.88' textLength='10.02' lengthAdjust='spacingAndGlyphs'>7</tspan><tspan x='749.18' textLength='4.26' lengthAdjust='spacingAndGlyphs'>)</tspan></text>
<text y='284'><tspan x='856.30' textLength='5.33' lengthAdjust='spacingAndGlyphs'>(</tspan><tspan x='861.56' textLength='9.90' lengthAdjust='spacingAndGlyphs'>0</tspan><tspan x='872.63' textLength='3.41' lengthAdjust='spacingAndGlyphs'>.</tspan><tspan x='875.37' textLength='10.02' lengthAdjust='spacingAndGlyphs'>2</tspan><tspan x='884.62' textLength='8.91' lengthAdjust='spacingAndGlyphs'>3</tspan><tspan x='893.64' textLength='4.26' lengthAdjust='spacingAndGlyphs'>)</tspan></text>
<text y='284'><tspan x='999.20' textLength='5.33' lengthAdjust='spacingAndGlyphs'>(</tspan><tspan x='1004.46' textLength='9.90' lengthAdjust='spacingAndGlyphs'>0</tspan><tspan x='1015.53' textLength='3.41' lengthAdjust='spacingAndGlyphs'>.</tspan><tspan x='1018.27' textLength='10.89' lengthAdjust='spacingAndGlyphs'>4</tspan><tspan x='1028.64' textLength='8.91' lengthAdjust='spacingAndGlyphs'>3</tspan><tspan x='1037.43' textLength='4.26' lengthAdjust='spacingAndGlyphs'>)</tspan></text>
<text y='284'><tspan x='1144.10' textLength='5.33' lengthAdjust='spacingAndGlyphs'>(</tspan><tspan x='1149.36' textLength='9.90' lengthAdjust='spacingAndGlyphs'>0</tspan><tspan x='1160.43' textLength='3.41' lengthAdjust='spacingAndGlyphs'>.</tspan><tspan x='1163.17' textLength='10.02' lengthAdjust='spacingAndGlyphs'>7</tspan><tspan x='1172.40' textLength='10.02' lengthAdjust='spacingAndGlyphs'>2</tspan><tspan x='1181.49' textLength='4.26' lengthAdjust='spacingAndGlyphs'>)</tspan></text>
<text y='310'><tspan x='568.50' textLength='5.33' lengthAdjust='spacingAndGlyphs'>(</tspan><tspan x='573.76' textLength='9.90' lengthAdjust='spacingAndGlyphs'>0</tspan><tspan x='584.83' textLength='3.41' lengthAdjust='spacingAndGlyphs'>.</tspan><tspan x='587.57' textLength='10.02' lengthAdjust='spacingAndGlyphs'>2</tspan><tspan x='596.82' textLength='10.02' lengthAdjust='spacingAndGlyphs'>2</tspan><tspan x='605.91' textLength='4.26' lengthAdjust='spacingAndGlyphs'>)</tspan></text>
<text y='310'><tspan x='711.40' textLength='5.33' lengthAdjust='spacingAndGlyphs'>(</tspan><tspan x='716.66' textLength='9.90' lengthAdjust='spacingAndGlyphs'>0</tspan><tspan x='727.73' textLength='3.41' lengthAdjust='spacingAndGlyphs'>.</tspan><tspan x='730.47' textLength='8.91' lengthAdjust='spacingAndGlyphs'>3</tspan><tspan x='739.65' textLength='9.90' lengthAdjust='spacingAndGlyphs'>6</tspan><tspan x='749.40' textLength='4.26' lengthAdjust='spacingAndGlyphs'>)</tspan></text>
<text y='310'><tspan x='853.30' textLength='5.33' lengthAdjust='spacingAndGlyphs'>(</tspan><tspan x='858.56' textLength='9.90' lengthAdjust='spacingAndGlyphs'>0</tspan><tspan x='869.63' textLength='3.41' lengthAdjust='spacingAndGlyphs'>.</tspan><tspan x='872.37' textLength='10.89' lengthAdjust='spacingAndGlyphs'>4</tspan><tspan x='882.74' textLength='10.89' lengthAdjust='spacingAndGlyphs'>4</tspan><tspan x='893.32' textLength='4.26' lengthAdjust='spacingAndGlyphs'>)</tspan></text>
<text y='310'><tspan x='999.20' textLength='5.33' lengthAdjust='spacingAndGlyphs'>(</tspan><tspan x='1004.46' textLength='9.90' lengthAdjust='spacingAndGlyphs'>0</tspan><tspan x='1015.53' textLength='3.41' lengthAdjust='spacingAndGlyphs'>.</tspan><tspan x='1018.27' textLength='9.90' lengthAdjust='spacingAndGlyphs'>8</tspan><tspan x='1028.64' textLength='10.02' lengthAdjust='spacingAndGlyphs'>2</tspan><tspan x='1037.73' textLength='4.26' lengthAdjust='spacingAndGlyphs'>)</tspan></text>
<text y='310'><tspan x='1146.10' textLength='5.33' lengthAdjust='spacingAndGlyphs'>(</tspan><tspan x='1151.21' textLength='6.23' lengthAdjust='spacingAndGlyphs'>1</tspan><tspan x='1157.77' textLength='3.41' lengthAdjust='spacingAndGlyphs'>.</tspan><tspan x='1160.69' textLength='10.89' lengthAdjust='spacingAndGlyphs'>4</tspan><tspan x='1171.07' textLength='10.89' lengthAdjust='spacingAndGlyphs'>4</tspan><tspan x='1181.64' textLength='4.26' lengthAdjust='spacingAndGlyphs'>)</tspan></text>
<text y='387'><tspan x='523.00' textLength='8.91' lengthAdjust='spacingAndGlyphs'>3</tspan><tspan x='532.02' textLength='8.91' lengthAdjust='spacingAndGlyphs'>5</tspan><tspan x='541.39' textLength='3.41' lengthAdjust='spacingAndGlyphs'>,</tspan><tspan x='544.31' textLength='8.91' lengthAdjust='spacingAndGlyphs'>9</tspan><tspan x='554.06' textLength='10.02' lengthAdjust='spacingAndGlyphs'>7</tspan><tspan x='563.36' textLength='8.91' lengthAdjust='spacingAndGlyphs'>9</tspan><tspan x='573.57' textLength='3.41' lengthAdjust='spacingAndGlyphs'>,</tspan><tspan x='576.31' textLength='9.90' lengthAdjust='spacingAndGlyphs'>6</tspan><tspan x='585.88' textLength='8.91' lengthAdjust='spacingAndGlyphs'>9</tspan><tspan x='595.62' textLength='10.02' lengthAdjust='spacingAndGlyphs'>7</tspan></text>
<text y='387'><tspan x='663.90' textLength='8.91' lengthAdjust='spacingAndGlyphs'>3</tspan><tspan x='672.92' textLength='8.91' lengthAdjust='spacingAndGlyphs'>5</tspan><tspan x='682.29' textLength='3.41' lengthAdjust='spacingAndGlyphs'>,</tspan><tspan x='685.21' textLength='8.91' lengthAdjust='spacingAndGlyphs'>9</tspan><tspan x='694.96' textLength='8.91' lengthAdjust='spacingAndGlyphs'>3</tspan><tspan x='703.82' textLength='10.89' lengthAdjust='spacingAndGlyphs'>4</tspan><tspan x='714.87' textLength='3.41' lengthAdjust='spacingAndGlyphs'>,</tspan><tspan x='718.11' textLength='10.89' lengthAdjust='spacingAndGlyphs'>4</tspan><tspan x='728.48' textLength='9.90' lengthAdjust='spacingAndGlyphs'>0</tspan><tspan x='739.07' textLength='9.90' lengthAdjust='spacingAndGlyphs'>6</tspan></text>
<text y='387'><tspan x='812.80' textLength='8.91' lengthAdjust='spacingAndGlyphs'>3</tspan><tspan x='821.82' textLength='9.90' lengthAdjust='spacingAndGlyphs'>6</tspan><tspan x='832.04' textLength='3.41' lengthAdjust='spacingAndGlyphs'>,</tspan><tspan x='835.12' textLength='8.91' lengthAdjust='spacingAndGlyphs'>9</tspan><tspan x='844.86' textLength='10.02' lengthAdjust='spacingAndGlyphs'>2</tspan><tspan x='853.80' textLength='6.23' lengthAdjust='spacingAndGlyphs'>1</tspan><tspan x='860.20' textLength='3.41' lengthAdjust='spacingAndGlyphs'>,</tspan><tspan x='863.12' textLength='8.91' lengthAdjust='spacingAndGlyphs'>3</tspan><tspan x='872.30' textLength='9.90' lengthAdjust='spacingAndGlyphs'>0</tspan><tspan x='882.90' textLength='9.90' lengthAdjust='spacingAndGlyphs'>0</tspan></text>
<text y='387'><tspan x='960.70' textLength='8.91' lengthAdjust='spacingAndGlyphs'>3</tspan><tspan x='969.72' textLength='9.90' lengthAdjust='spacingAndGlyphs'>6</tspan><tspan x='979.94' textLength='3.41' lengthAdjust='spacingAndGlyphs'>,</tspan><tspan x='983.02' textLength='10.02' lengthAdjust='spacingAndGlyphs'>2</tspan><tspan x='992.12' textLength='6.23' lengthAdjust='spacingAndGlyphs'>1</tspan><tspan x='998.04' textLength='9.90' lengthAdjust='spacingAndGlyphs'>8</tspan><tspan x='1008.72' textLength='3.41' lengthAdjust='spacingAndGlyphs'>,</tspan><tspan x='1011.65' textLength='6.23' lengthAdjust='spacingAndGlyphs'>1</tspan><tspan x='1017.38' textLength='8.91' lengthAdjust='spacingAndGlyphs'>3</tspan><tspan x='1026.41' textLength='9.90' lengthAdjust='spacingAndGlyphs'>8</tspan></text>
<text y='387'><tspan x='1098.60' textLength='8.91' lengthAdjust='spacingAndGlyphs'>3</tspan><tspan x='1107.62' textLength='10.02' lengthAdjust='spacingAndGlyphs'>7</tspan><tspan x='1117.31' textLength='3.41' lengthAdjust='spacingAndGlyphs'>,</tspan><tspan x='1119.39' textLength='10.02' lengthAdjust='spacingAndGlyphs'>7</tspan><tspan x='1128.62' textLength='10.02' lengthAdjust='spacingAndGlyphs'>7</tspan><tspan x='1138.04' textLength='10.89' lengthAdjust='spacingAndGlyphs'>4</tspan><tspan x='1148.05' textLength='3.41' lengthAdjust='spacingAndGlyphs'>,</tspan><tspan x='1151.29' textLength='10.02' lengthAdjust='spacingAndGlyphs'>2</tspan><tspan x='1160.54' textLength='9.90' lengthAdjust='spacingAndGlyphs'>8</tspan><tspan x='1170.75' textLength='9.90' lengthAdjust='spacingAndGlyphs'>0</tspan></text>
<text y='102'><tspan x='500.30' textLength='7.79' lengthAdjust='spacingAndGlyphs' font-size='17.5'>$</tspan></text>
<text y='102'><tspan x='644.10' textLength='7.79' lengthAdjust='spacingAndGlyphs' font-size='17.5'>$</tspan></text>
<text y='102'><tspan x='787.90' textLength='7.79' lengthAdjust='spacingAndGlyphs' font-size='17.5'>$</tspan></text>
<text y='102'><tspan x='931.70' textLength='7.79' lengthAdjust='spacingAndGlyphs' font-size='17.5'>$</tspan></text>
<text y='102'><tspan x='1075.50' textLength='7.79' lengthAdjust='spacingAndGlyphs' font-size='17.5'>$</tspan></text>
<text y='156'><tspan x='500.30' textLength='7.79' lengthAdjust='spacingAndGlyphs' font-size='17.5'>$</tspan></text>
<text y='156'><tspan x='644.10' textLength='7.79' lengthAdjust='spacingAndGlyphs' font-size='17.5'>$</tspan></text>
<text y='156'><tspan x='787.90' textLength='7.79' lengthAdjust='spacingAndGlyphs' font-size='17.5'>$</tspan></text>
<text y='156'><tspan x='931.70' textLength='7.79' lengthAdjust='spacingAndGlyphs' font-size='17.5'>$</tspan></text>
<text y='156'><tspan x='1075.50' textLength='7.79' lengthAdjust='spacingAndGlyphs' font-size='17.5'>$</tspan></text>
<text y='207'><tspan x='500.30' textLength='7.79' lengthAdjust='spacingAndGlyphs' font-size='17.5'>$</tspan></text>
<text y='207'><tspan x='644.10' textLength='7.79' lengthAdjust='spacingAndGlyphs' font-size='17.5'>$</tspan></text>
<text y='207'><tspan x='787.90' textLength='7.79' lengthAdjust='spacingAndGlyphs' font-size='17.5'>$</tspan></text>
<text y='207'><tspan x='931.70' textLength='7.79' lengthAdjust='spacingAndGlyphs' font-size='17.5'>$</tspan></text>
<text y='207'><tspan x='1075.50' textLength='7.79' lengthAdjust='spacingAndGlyphs' font-size='17.5'>$</tspan></text>
<text y='259'><tspan x='500.30' textLength='7.79' lengthAdjust='spacingAndGlyphs' font-size='17.5'>$</tspan></text>
<text y='259'><tspan x='644.10' textLength='7.79' lengthAdjust='spacingAndGlyphs' font-size='17.5'>$</tspan></text>
<text y='259'><tspan x='787.90' textLength='7.79' lengthAdjust='spacingAndGlyphs' font-size='17.5'>$</tspan></text>
<text y='259'><tspan x='931.70' textLength='7.79' lengthAdjust='spacingAndGlyphs' font-size='17.5'>$</tspan></text>
<text y='259'><tspan x='1075.50' textLength='7.79' lengthAdjust='spacingAndGlyphs' font-size='17.5'>$</tspan></text>
<text y='310'><tspan x='500.30' textLength='7.79' lengthAdjust='spacingAndGlyphs' font-size='17.5'>$</tspan></text>
<text y='310'><tspan x='644.10' textLength='7.79' lengthAdjust='spacingAndGlyphs' font-size='17.5'>$</tspan></text>
<text y='310'><tspan x='787.90' textLength='7.79' lengthAdjust='spacingAndGlyphs' font-size='17.5'>$</tspan></text>
<text y='310'><tspan x='931.70' textLength='7.79' lengthAdjust='spacingAndGlyphs' font-size='17.5'>$</tspan></text>
<text y='310'><tspan x='1075.50' textLength='7.79' lengthAdjust='spacingAndGlyphs' font-size='17.5'>$</tspan></text>
<text x='6.90' y='421' text-rendering='optimizeLegibility' textLength='327.96' lengthAdjust='spacingAndGlyphs'>_________________________________________</text>
</g></svg></body></html>
